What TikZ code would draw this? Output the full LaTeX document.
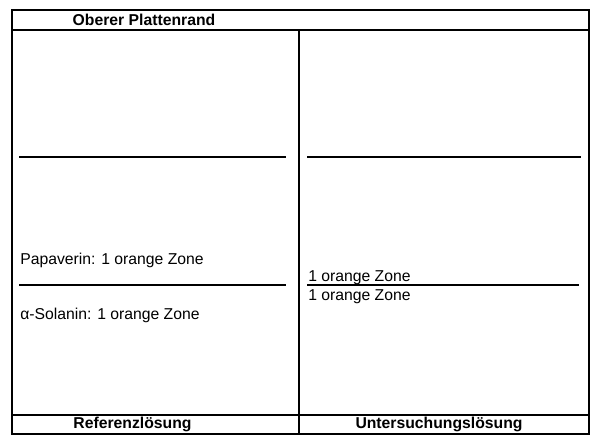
\documentclass[tikz,border=0pt]{standalone}
\usepackage{fontspec}
\setmainfont{Liberation Sans}
\usetikzlibrary{positioning}

\tikzset{
  platte/.style={draw, line width=1pt},
  front/.style={line width=0.9pt},
  zone/.style={anchor=west, inner sep=0pt, font=\fontsize{11.8}{13}\selectfont},
  kopf/.style={inner sep=0pt, font=\bfseries\fontsize{11.8}{13}\selectfont}
}

\begin{document}
\begin{tikzpicture}[x=0.75pt,y=-0.75pt]
            \useasboundingbox (0,0) rectangle (600,445);
            % Platte mit Kopf- und Fusszeile
            \draw[platte] (12,10) rectangle (589,434);
            \draw[platte] (12,30) -- (589,30);
            \draw[platte] (12,415) -- (589,415);
            \draw[platte] (299,30) -- (299,434);

            \node[kopf] (rand) at (144,20) {Oberer Plattenrand};
            \node[kopf] (referenz) at (132.5,424.5) {Referenzlösung};
            \node[kopf] (untersuchung) at (439,424.5) {Untersuchungslösung};

            % Fliessmittelfront und Start
            \draw[front] (19,157) -- (286,157);
            \draw[front] (307,157) -- (581,157);
            \draw[front] (19,285) -- (286,285);
            \draw[front] (307,285) -- (579,285);

            % Zonen
            \node[zone] (papaverin) at (20,260) {Papaverin: 1 orange Zone};
            \node[zone] (solanin) at (20,315) {α-Solanin: 1 orange Zone};
            \node[zone] (zone1) at (308,277.5) {1 orange Zone};
            \node[zone] (zone2) at (308,297) {1 orange Zone};
        \end{tikzpicture}
\end{document}
